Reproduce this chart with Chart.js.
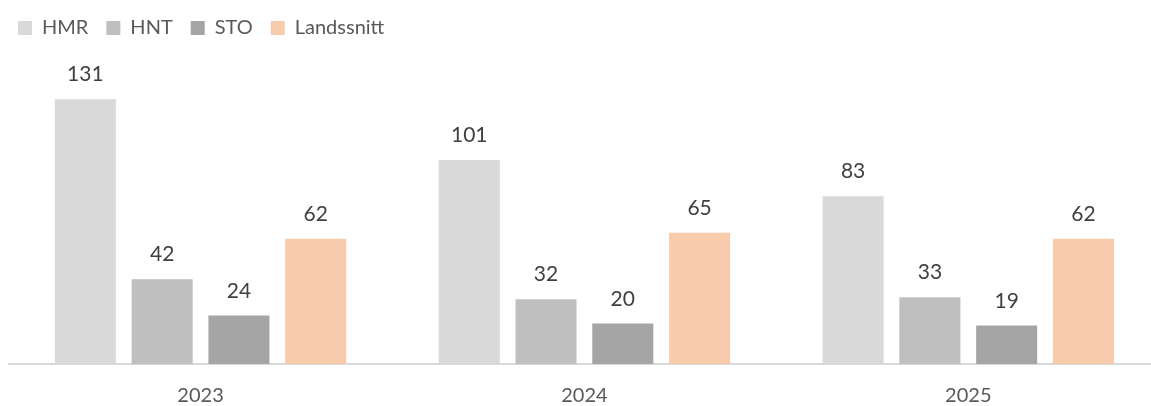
<!DOCTYPE html>
<html>
<head>
<meta charset="utf-8">
<script src="https://cdn.jsdelivr.net/npm/chart.js@4.4.1/dist/chart.umd.min.js"></script>
<style>
  html, body { margin: 0; padding: 0; background: #ffffff; }
  #wrap { width: 1151px; height: 406px; position: relative; }
</style>
</head>
<body>
<div id="wrap"><canvas id="c" width="1151" height="406"></canvas></div>
<script>
const categories = ['2023', '2024', '2025'];
const seriesNames = ['HMR', 'HNT', 'STO', 'Landssnitt'];
const hmr = [131, 101, 83];
const hnt = [42, 32, 33];
const sto = [24, 20, 19];
const landssnitt = [62, 65, 62];
const seriesColors = ['#d9d9d9', '#bfbfbf', '#a5a5a5', '#f8cbad'];

const FONT = 'Lato, Carlito, Calibri, sans-serif';
const TEXT = '#595959';
const LABEL_TEXT = '#404040';

// Value labels above each bar
const valueLabels = {
  id: 'valueLabels',
  afterDatasetsDraw(chart) {
    const ctx = chart.ctx;
    ctx.save();
    ctx.font = '21px ' + FONT;
    ctx.fillStyle = LABEL_TEXT;
    ctx.textAlign = 'center';
    ctx.textBaseline = 'alphabetic';
    chart.data.datasets.forEach((ds, i) => {
      chart.getDatasetMeta(i).data.forEach((bar, j) => {
        ctx.fillText(String(ds.data[j]), bar.x, bar.y - 18);
      });
    });
    ctx.restore();
  }
};

const years = categories.map(Number);
const seriesData = [hmr, hnt, sto, landssnitt];
new Chart(document.getElementById('c'), {
  type: 'bar',
  data: {
    labels: categories,
    datasets: seriesNames.map((name, i) => ({
      label: name,
      data: seriesData[i],
      backgroundColor: seriesColors[i],
      borderWidth: 0,
      barPercentage: 0.795,
      categoryPercentage: 0.8
    }))
  },
  options: {
    responsive: false,
    animation: false,
    layout: { padding: { left: 0, right: 0, top: 0, bottom: 0 } },
    plugins: {
      legend: {
        position: 'top',
        align: 'start',
        labels: {
          boxWidth: 14,
          boxHeight: 14,
          color: TEXT,
          font: { family: FONT, size: 20 },
          padding: 18
        }
      },
      tooltip: { enabled: false }
    },
    scales: {
      x: {
        type: 'linear',
        // the plot runs slightly past the right edge, so the last year is clipped
        min: years[0] - 0.5,
        max: years[years.length - 1] + 0.476,
        offset: false,
        grid: { display: false, drawTicks: false },
        border: { display: true, color: '#d9d9d9', width: 2 },
        ticks: {
          color: TEXT,
          font: { family: FONT, size: 20 },
          padding: 20,
          callback: (v) => String(v)
        },
        afterBuildTicks(scale) { scale.ticks = years.map(v => ({ value: v })); },
        afterFit(scale) { scale.height = 42; }
      },
      y: {
        min: 0,
        max: 156.4,
        grid: { display: false, drawTicks: false },
        border: { display: false },
        ticks: { display: false },
        afterFit(scale) { scale.width = 8.6; }
      }
    }
  },
  plugins: [valueLabels]
});
</script>
</body>
</html>
